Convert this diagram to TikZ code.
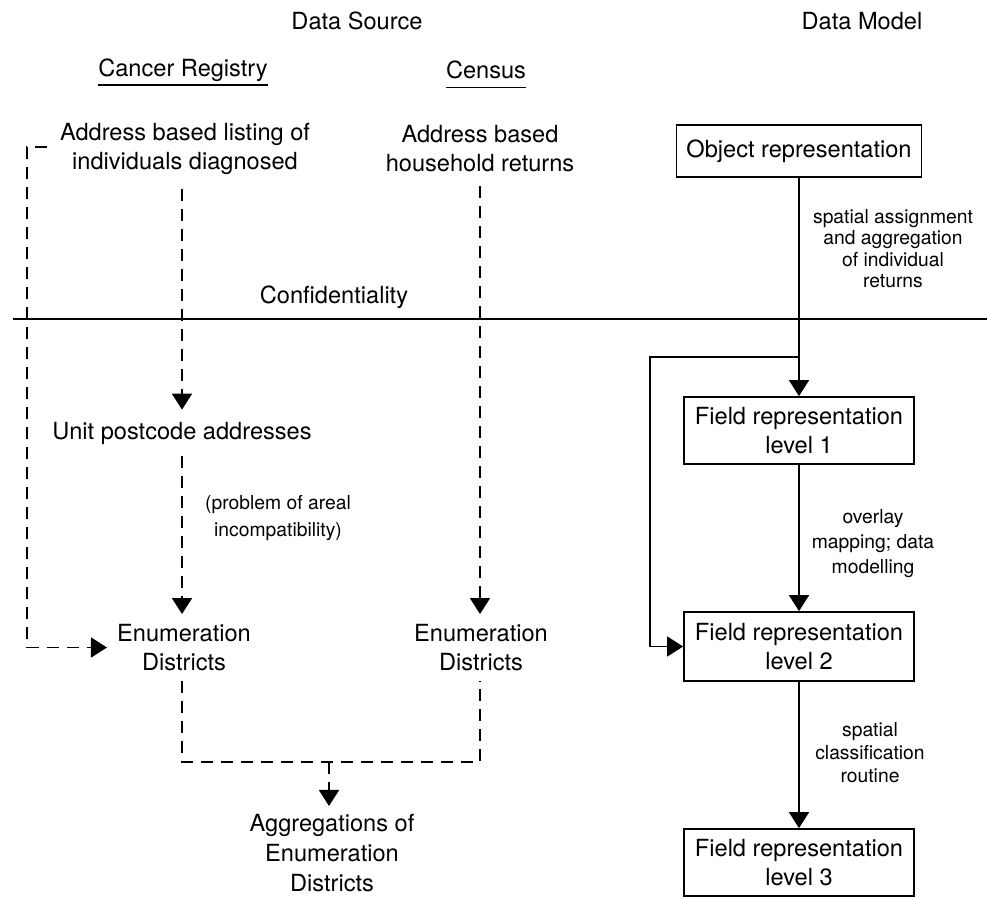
\documentclass[tikz,border=0pt]{standalone}
\usepackage{fontspec}
\setmainfont{TeX Gyre Heros}
\usetikzlibrary{arrows.meta}
\begin{document}
\begin{tikzpicture}[x=1pt,y=-1pt,
  txt/.style={align=center,font=\fontsize{23.6}{29}\selectfont,inner sep=11pt},
  lbl/.style={align=center,font=\fontsize{19.3}{21.5}\selectfont,inner sep=0pt},
  box/.style={draw,line width=1.8pt,align=center,font=\fontsize{23.6}{29}\selectfont,minimum width=230pt,inner sep=0pt},
  sol/.style={line width=1.8pt},
  dsh/.style={line width=1.8pt,dash pattern=on 12pt off 8pt},
  arr/.style={-{Triangle[length=16pt,width=20pt]}}
]
\useasboundingbox (0,0) rectangle (987,897);

% headings
\node[txt,inner sep=0pt] (ds) at (357,21) {Data Source};
\node[txt,inner sep=0pt] (dm) at (862,21) {Data Model};
\node[txt,inner sep=0pt] (cr) at (183,70) {Cancer Registry};
\node[txt,inner sep=0pt] (cen) at (486,70) {Census};
\draw[line width=1.5pt] ([yshift=-9pt]cr.base west) -- ([yshift=-9pt]cr.base east);
\draw[line width=1.5pt] ([yshift=-9pt]cen.base west) -- ([yshift=-9pt]cen.base east);

% data source column
\node[txt,inner sep=14pt] (addr) at (185,149) {Address based listing of\\individuals diagnosed};
\node[txt,inner sep=14pt] (hh) at (480,149) {Address based\\household returns};
\node[txt,inner sep=0pt] (conf) at (334,297) {Confidentiality};
\coordinate (cl) at (13,319);
\coordinate (crt) at (987,319);
\draw[line width=2.5pt] (cl) -- (crt);
\node[txt,inner sep=12pt] (unit) at (182,433) {Unit postcode addresses};
\node[lbl,font=\fontsize{19.3}{27}\selectfont] (prob) at (278,518.5) {(problem of areal\\incompatibility)};
\node[txt,inner sep=10pt] (ed1) at (184,647.5) {Enumeration\\Districts};
\node[txt,inner sep=10pt] (ed2) at (481,647.5) {Enumeration\\Districts};
\node[txt,inner sep=8pt,font=\fontsize{23.6}{30}\selectfont] (agg) at (332,853) {Aggregations of\\Enumeration\\Districts};

\coordinate (lt) at (47,147);
\coordinate (lc) at (27,147);
\draw[dsh,arr] (lt) -- (lc) |- (ed1.west);
\draw[dsh,arr] (addr.south -| unit.north) -- (unit.north);
\draw[dsh,arr] (unit.south) -- (unit.south |- ed1.north);
\draw[dsh,arr] (hh.south) -- (hh.south |- ed2.north);
\coordinate (jb) at (329,762);
\draw[dsh] (ed1.south -| unit.south) |- (jb) -| (ed2.south -| hh.south);
\draw[dsh,arr] (jb) -- (jb |- agg.north);

% data model column
\node[box,minimum width=245pt,minimum height=52pt] (obj) at (799,151) {Object representation};
\node[lbl] (l1) at (893,248.5) {spatial assignment\\and aggregation\\of individual\\returns};
\node[box,minimum height=67pt] (f1) at (799,430.5) {Field representation\\level 1};
\node[lbl,font=\fontsize{19.3}{25}\selectfont] (l2) at (873,544) {overlay\\mapping; data\\modelling};
\node[box,minimum height=69pt] (f2) at (799,646.5) {Field representation\\level 2};
\node[lbl,font=\fontsize{19.3}{23}\selectfont] (l3) at (870,753) {spatial\\classification\\routine};
\node[box,minimum height=67pt] (f3) at (799,862.5) {Field representation\\level 3};

\draw[sol,arr] (obj) -- (f1);
\coordinate (j) at (799,357);
\coordinate (fb) at (650,357);
\draw[sol,arr] (j) -- (fb) |- (f2.west);
\draw[sol,arr] (f1) -- (f2);
\draw[sol,arr] (f2) -- (f3);
\end{tikzpicture}
\end{document}
